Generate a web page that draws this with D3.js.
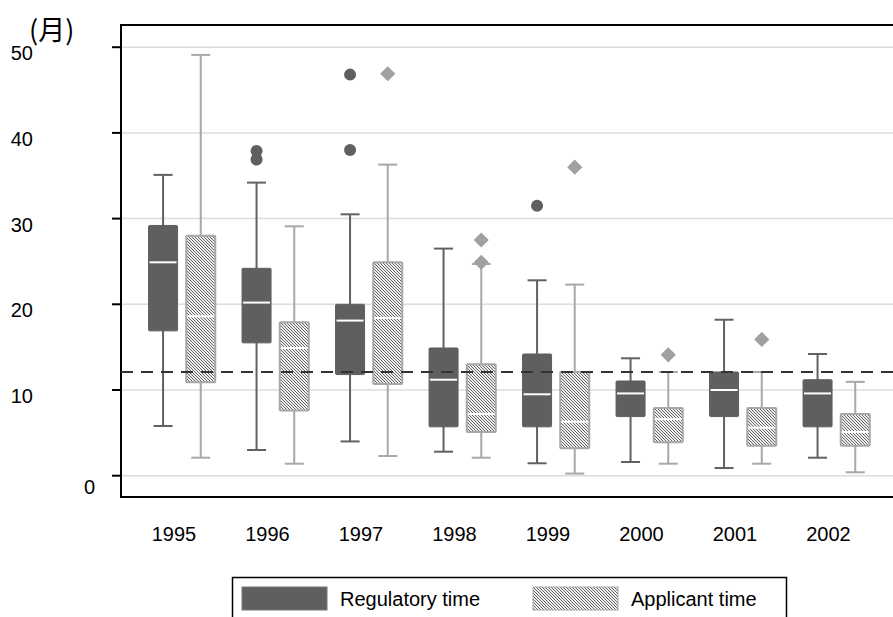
<!DOCTYPE html>
<html><head><meta charset="utf-8">
<script src="https://cdn.jsdelivr.net/npm/d3@7"></script>
<style>body{margin:0;background:#fff}svg{display:block;font-family:"Liberation Sans",Arial,sans-serif}</style>
</head><body><svg id="c" width="893" height="617"></svg>
<script>
const years = ["1995","1996","1997","1998","1999","2000","2001","2002"];
const seriesNames = ["Regulatory time","Applicant time"];
// [lowerWhisker, q1, median, q3, upperWhisker]
const regulatory = [
  [5.8,16.9,24.9,29.2,35.1],
  [3.0,15.5,20.2,24.2,34.2],
  [4.0,11.8,18.1,20.0,30.5],
  [2.8,5.7,11.2,14.9,26.5],
  [1.45,5.7,9.5,14.2,22.8],
  [1.6,6.9,9.6,11.05,13.7],
  [0.9,6.9,10.0,12.1,18.2],
  [2.1,5.7,9.6,11.2,14.2]
];
const applicant = [
  [2.1,10.9,18.6,28.0,49.1],
  [1.4,7.6,14.9,17.9,29.1],
  [2.3,10.7,18.4,24.9,36.3],
  [2.1,5.1,7.2,13.0,24.7],
  [0.25,3.2,6.3,12.1,22.3],
  [1.4,3.9,6.6,7.9,12.1],
  [1.4,3.5,5.6,7.9,12.1],
  [0.4,3.5,5.1,7.2,10.95]
];
const regOutliers = [[],[37.9,36.9],[46.8,38.0],[],[31.5],[],[],[]];
const appOutliers = [[],[],[46.9],[24.9,27.5],[36.0],[14.1],[15.9],[]];
const yTicks = [0,10,20,30,40,50];
const refLine = 12.1;
const unitLabel = "(月)";

const svg = d3.select("#c");
const defs = svg.append("defs");
const pat = defs.append("pattern").attr("id","hatch").attr("patternUnits","userSpaceOnUse")
  .attr("width",3).attr("height",3);
pat.append("rect").attr("width",3).attr("height",3).attr("fill","#eeeeee");
const darkCells = d3.range(9).map(k=>[k%3, Math.floor(k/3)]).filter(([px,py])=>((px-py+6)%3)===0);
pat.selectAll("rect.d").data(darkCells).join("rect").attr("class","d")
  .attr("x",d=>d[0]).attr("y",d=>d[1]).attr("width",1).attr("height",1)
  .attr("fill","#666666").attr("shape-rendering","crispEdges");

const x = d3.scaleBand().domain(years).range([135.15, 883.15]).padding(0);
const xs = d3.scalePoint().domain(seriesNames).range([-18.85, 18.85]);
const y = d3.scaleLinear().domain([0,50]).range([475.7, 47.2]);
const plotL = 121, plotR = 893, plotT = 25, plotB = 497;

// gridlines
svg.append("g").selectAll("line").data(yTicks).join("line")
  .attr("x1",plotL).attr("x2",plotR).attr("y1",d=>y(d)).attr("y2",d=>y(d))
  .attr("stroke","#dcdcdc").attr("stroke-width",1.5);

// frame
svg.append("path").attr("d",`M${plotR+2},${plotT} H${plotL} V${plotB} H${plotR+2}`)
  .attr("fill","none").attr("stroke","#000").attr("stroke-width",2);

// y ticks
svg.append("g").selectAll("line").data(yTicks).join("line")
  .attr("x1",112).attr("x2",plotL).attr("y1",d=>y(d)).attr("y2",d=>y(d))
  .attr("stroke","#000").attr("stroke-width",2);
svg.append("g").selectAll("text").data(yTicks).join("text")
  .attr("x",d=>d===0?95:33).attr("y",d=>d===0?y(d)+11:y(d)+6)
  .attr("text-anchor","end").attr("dominant-baseline","central")
  .attr("font-size",20).attr("fill","#000").text(d=>d);
svg.append("text").attr("x",29).attr("y",28).attr("dominant-baseline","central")
  .attr("font-size",27).attr("font-family","'Noto Sans CJK JP','Liberation Sans',sans-serif")
  .text(unitLabel);

// x labels
svg.append("g").selectAll("text").data(years).join("text")
  .attr("x",d=>x(d)+x.bandwidth()/2-8).attr("y",534)
  .attr("text-anchor","middle").attr("dominant-baseline","central")
  .attr("font-size",20).attr("fill","#000").text(d=>d);

const bw = 29, capW = 19;
function drawSeries(data, outliers, name, opts){
  const g = svg.append("g");
  years.forEach((yr,i)=>{
    const cx = x(yr)+x.bandwidth()/2+xs(name);
    const [lo,q1,md,q3,hi] = data[i];
    g.append("line").attr("x1",cx).attr("x2",cx).attr("y1",y(hi)).attr("y2",y(lo))
      .attr("stroke",opts.whisker).attr("stroke-width",2);
    g.append("line").attr("x1",cx-capW/2).attr("x2",cx+capW/2).attr("y1",y(hi)).attr("y2",y(hi))
      .attr("stroke",opts.whisker).attr("stroke-width",2);
    g.append("line").attr("x1",cx-capW/2).attr("x2",cx+capW/2).attr("y1",y(lo)).attr("y2",y(lo))
      .attr("stroke",opts.whisker).attr("stroke-width",2);
    g.append("rect").attr("x",cx-bw/2).attr("width",bw).attr("y",y(q3)).attr("height",y(q1)-y(q3))
      .attr("fill",opts.fill).attr("stroke",opts.stroke).attr("stroke-width",opts.sw).attr("rx",1);
    g.append("line").attr("x1",cx-bw/2+1).attr("x2",cx+bw/2-1).attr("y1",y(md)).attr("y2",y(md))
      .attr("stroke","#fff").attr("stroke-width",2);
    outliers[i].forEach(v=>{
      if(opts.diamond){
        g.append("path").attr("d",d3.symbol(d3.symbolSquare,115)()).attr("transform",`translate(${cx},${y(v)}) rotate(45)`)
          .attr("fill","#a0a0a0");
      } else {
        g.append("circle").attr("cx",cx).attr("cy",y(v)).attr("r",6).attr("fill","#5f5f5f");
      }
    });
  });
}
drawSeries(regulatory, regOutliers, seriesNames[0], {fill:"#5f5f5f",stroke:"#5f5f5f",sw:1,whisker:"#616161",diamond:false});
drawSeries(applicant, appOutliers, seriesNames[1], {fill:"url(#hatch)",stroke:"#a8a8a8",sw:2,whisker:"#a8a8a8",diamond:true});

// reference dashed line
svg.append("line").attr("x1",plotL).attr("x2",plotR).attr("y1",y(refLine)).attr("y2",y(refLine))
  .attr("stroke","#333").attr("stroke-width",2).attr("stroke-dasharray","12,8");

// legend
const lg = svg.append("g");
lg.append("rect").attr("x",232.5).attr("y",577.5).attr("width",554).attr("height",60)
  .attr("fill","#fff").attr("stroke","#000").attr("stroke-width",1.5);
const legendX = [242, 533];
seriesNames.forEach((n,i)=>{
  lg.append("rect").attr("x",legendX[i]).attr("y",587).attr("width",85).attr("height",23)
    .attr("fill",i===0?"#5f5f5f":"url(#hatch)").attr("stroke",i===0?"#777":"#a8a8a8").attr("stroke-width",1);
  lg.append("text").attr("x",legendX[i]+98).attr("y",599).attr("dominant-baseline","central")
    .attr("font-size",20).attr("fill","#000").text(n);
});
</script></body></html>
